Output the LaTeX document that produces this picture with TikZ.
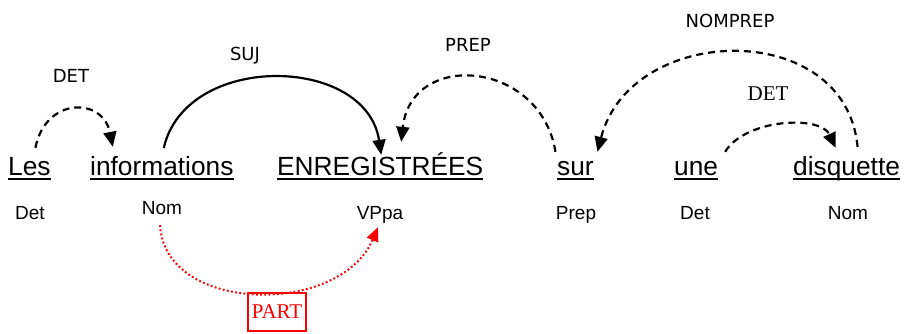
\documentclass[tikz,border=0pt]{standalone}
\usepackage{fontspec}
\usetikzlibrary{arrows.meta}
\newfontfamily\wordfont{Liberation Sans}
\newfontfamily\lblfont{DejaVu Sans}
\newfontfamily\serfont{Liberation Serif}
\begin{document}
\begin{tikzpicture}[x=1pt,y=-1pt,
  word/.style={anchor=base west,inner sep=0pt,text height=20pt,text depth=6pt,
    font=\wordfont\fontsize{26.3}{30}\selectfont},
  tag/.style={anchor=base,inner sep=0pt,text height=14pt,text depth=4pt,
    font=\wordfont\fontsize{19}{22}\selectfont},
  rel/.style={anchor=base,inner sep=0pt,font=\lblfont\fontsize{18}{20}\selectfont},
  ul/.style={line width=2.2pt},
  tip/.style={-{Triangle[length=15pt,width=13pt]}},
  dep/.style={tip,line width=2.2pt,dash pattern=on 7pt off 5pt},
  solid dep/.style={tip,line width=2.2pt},
  part/.style={-{Triangle[length=14pt,width=12pt]},red,line width=2pt,dash pattern=on 1.8pt off 2.4pt}]
\useasboundingbox (0,0) rectangle (905,333);

% words of the sentence
\node[word] (les) at (8,175) {Les};
\node[word] (inf) at (90,175) {informations};
\node[word] (enr) at (277,175) {ENREGISTRÉES};
\node[word] (sur) at (557,175) {sur};
\node[word] (une) at (674,175) {une};
\node[word] (dis) at (793,175) {disquette};
\foreach \w in {les,inf,enr,sur,une,dis}
  \draw[ul] ([yshift=-4pt]\w.base west) -- ([yshift=-4pt]\w.base east);

% part-of-speech tags
\node[tag] (tLes) at (30,219) {Det};
\node[tag] (tInf) at (162,214) {Nom};
\node[tag] (tEnr) at (380,219) {VPpa};
\node[tag] (tSur) at (576,219) {Prep};
\node[tag] (tUne) at (695,219) {Det};
\node[tag] (tDis) at (848,219) {Nom};

% relation labels
\node[rel] (lDet) at (71,82) {DET};
\node[rel] (lSuj) at (245,60) {SUJ};
\node[rel] (lPrep) at (468,51) {PREP};
\node[rel] (lNomprep) at (730,27) {NOMPREP};
\node[anchor=base,inner sep=0pt,font=\serfont\fontsize{21}{24}\selectfont] (lDet2) at (768,100) {DET};
\node[draw=red,line width=1.3pt,text=red,minimum width=58pt,minimum height=38pt,inner sep=0pt,
  font=\serfont\fontsize{21}{24}\selectfont] (lPart) at (277,312) {PART};

% dependency arcs
\draw[dep] ([xshift=6pt,yshift=7pt]les.north) .. controls +(10,-51) and +(-10,-50) .. ([xshift=-49pt,yshift=8pt]inf.north);
\draw[solid dep] ([xshift=2pt,yshift=7pt]inf.north) .. controls +(22,-96) and +(-15,-100) .. ([xshift=1pt]enr.north);
\draw[dep] ([xshift=-20pt,yshift=3pt]sur.north) .. controls +(-15,-92) and +(10,-92) .. ([xshift=21pt,yshift=13pt]enr.north);
\draw[dep] ([xshift=11pt,yshift=8pt]dis.north) .. controls +(-12,-129) and +(33,-129) .. ([xshift=22pt,yshift=3pt]sur.north);
\draw[dep] ([xshift=29pt,yshift=3pt]une.north) .. controls +(20,-33) and +(-15,-33) .. ([xshift=-11pt,yshift=7pt]dis.north);
\draw[part] ([xshift=-2pt,yshift=-7pt]tInf.south) .. controls +(5,89) and +(-38,89) .. ([xshift=-2pt,yshift=-4pt]tEnr.south);
\end{tikzpicture}
\end{document}
